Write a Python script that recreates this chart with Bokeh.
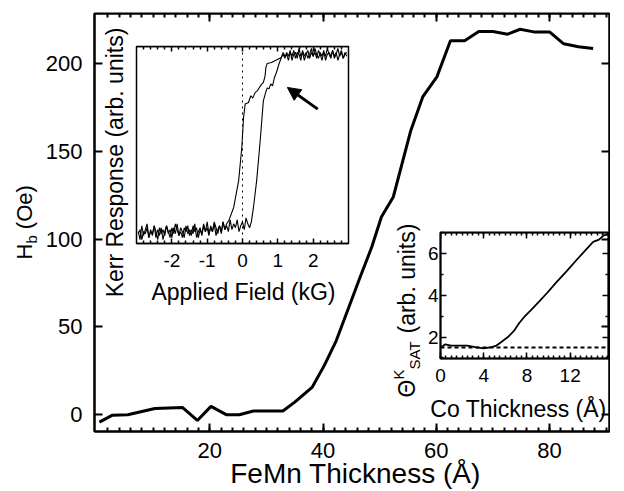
from math import pi
from bokeh.plotting import figure
from bokeh.models import (FixedTicker, LinearAxis, Range1d, Label, Span, Arrow, NormalHead,
                          GridBox, Column)
from bokeh.embed import file_html
from bokeh.resources import INLINE

FONT = "Liberation Sans"

# ---------------- main data: exchange bias vs FeMn thickness ----------------
femn_thickness = [0.5, 2.8, 5.5, 10.3, 15.2, 17.8, 20.2, 22.9, 25.2, 27.7, 32.9, 35.0, 38.1,
                  40.2, 42.3, 44.4, 46.5, 48.6, 50.3, 52.4, 55.5, 57.6, 60.1, 62.5, 65.0,
                  67.5, 70.0, 72.6, 74.8, 77.2, 80.0, 82.5, 85.1, 87.7]
hb_oe = [-4.2, -0.2, 0.0, 3.6, 4.1, -3.2, 4.8, 0.1, 0.0, 2.2, 2.2, 7.2, 15.8,
         28.0, 42.0, 60.0, 78.0, 95.5, 112.6, 124.0, 161.9, 181.0, 192.4, 213.0, 213.0,
         218.2, 218.2, 216.7, 219.5, 218.0, 218.0, 211.2, 209.5, 208.5]
main_x_ticks = [20, 40, 60, 80]
main_y_ticks = [0, 50, 100, 150, 200]

# ---------------- inset 1: Kerr hysteresis loop ----------------
field_up = [-2.95, -2.90, -2.85, -2.80, -2.75, -2.70, -2.65, -2.60, -2.55, -2.50,
            -2.45, -2.40, -2.35, -2.30, -2.25, -2.20, -2.15, -2.10, -2.05, -2.00,
            -1.95, -1.90, -1.85, -1.80, -1.75, -1.70, -1.65, -1.60, -1.55, -1.50,
            -1.45, -1.40, -1.35, -1.30, -1.25, -1.20, -1.15, -1.10, -1.05, -1.00,
            -0.95, -0.90, -0.85, -0.80, -0.75, -0.70, -0.65, -0.60, -0.55, -0.50,
            -0.45, -0.40, -0.35, -0.30, -0.25, -0.20, -0.15, -0.10, -0.05, 0.00,
            0.05, 0.10, 0.15, 0.20, 0.25,
            0.31, 0.40, 0.50, 0.59, 0.66, 0.70, 0.75, 0.80, 0.85, 0.90, 0.96, 1.03, 1.10,
            1.15, 1.20, 1.25, 1.30, 1.35, 1.40, 1.45, 1.50, 1.55, 1.60,
            1.65, 1.70, 1.75, 1.80, 1.85, 1.90, 1.95, 2.00, 2.05, 2.10,
            2.15, 2.20, 2.25, 2.30, 2.35, 2.40, 2.45, 2.50, 2.55, 2.60,
            2.65, 2.70, 2.75, 2.80, 2.85, 2.90, 2.95]
kerr_up = [0.06, 0.02, 0.09, 0.04, 0.07, 0.10, 0.03, 0.06, 0.05, 0.09,
           0.03, 0.07, 0.04, 0.08, 0.02, 0.06, 0.09, 0.05, 0.07, 0.03,
           0.08, 0.05, 0.10, 0.04, 0.06, 0.03, 0.08, 0.06, 0.09, 0.04,
           0.07, 0.05, 0.10, 0.03, 0.06, 0.08, 0.04, 0.09, 0.06, 0.11,
           0.05, 0.08, 0.06, 0.10, 0.04, 0.07, 0.09, 0.05, 0.11, 0.07,
           0.09, 0.06, 0.12, 0.07, 0.10, 0.08, 0.12, 0.06, 0.09, 0.11,
           0.07, 0.13, 0.10, 0.08, 0.11,
           0.183, 0.318, 0.52, 0.724, 0.77, 0.79, 0.785, 0.81, 0.80, 0.84, 0.868, 0.91, 0.944,
           0.96, 0.94, 0.97, 0.95, 0.98, 0.93, 0.96, 0.97, 0.94, 0.99,
           0.95, 0.97, 0.93, 0.96, 0.98, 0.94, 0.97, 0.95, 0.99, 0.96,
           0.94, 0.97, 0.95, 0.98, 0.93, 0.96, 0.97, 0.95, 0.98, 0.94,
           0.96, 0.99, 0.95, 0.97, 0.94, 0.96, 0.97]
field_down = [2.95, 2.90, 2.85, 2.80, 2.75, 2.70, 2.65, 2.60, 2.55, 2.50,
              2.45, 2.40, 2.35, 2.30, 2.25, 2.20, 2.15, 2.10, 2.05, 2.00,
              1.95, 1.90, 1.85, 1.80, 1.75, 1.70, 1.65, 1.60, 1.55, 1.50,
              1.45, 1.40, 1.35, 1.30, 1.25, 1.20, 1.15,
              1.10, 0.96, 0.82, 0.70, 0.66, 0.64, 0.59, 0.54, 0.48, 0.42, 0.36, 0.29, 0.235,
              0.17, 0.076, 0.03, -0.02, -0.11, -0.25, -0.39,
              -0.45, -0.50, -0.55, -0.60, -0.65, -0.70, -0.75, -0.80, -0.85, -0.90,
              -0.95, -1.00, -1.05, -1.10, -1.15, -1.20, -1.25, -1.30, -1.35, -1.40,
              -1.45, -1.50, -1.55, -1.60, -1.65, -1.70, -1.75, -1.80, -1.85, -1.90,
              -1.95, -2.00, -2.05, -2.10, -2.15, -2.20, -2.25, -2.30, -2.35, -2.40,
              -2.45, -2.50, -2.55, -2.60, -2.65, -2.70, -2.75, -2.80, -2.85, -2.90,
              -2.95]
kerr_down = [0.95, 0.97, 0.94, 0.98, 0.96, 0.93, 0.97, 0.95, 0.98, 0.94,
             0.96, 0.99, 0.95, 0.97, 0.93, 0.96, 0.98, 0.94, 0.97, 0.95,
             0.99, 0.96, 0.94, 0.97, 0.95, 0.98, 0.93, 0.96, 0.97, 0.94,
             0.98, 0.95, 0.97, 0.93, 0.96, 0.95, 0.97,
             0.944, 0.931, 0.919, 0.914, 0.893, 0.851, 0.817, 0.809, 0.792, 0.775, 0.767, 0.738, 0.75,
             0.716, 0.708, 0.64, 0.487, 0.318, 0.183, 0.115,
             0.10, 0.07, 0.11, 0.06, 0.09, 0.05, 0.08, 0.11, 0.06, 0.09,
             0.04, 0.08, 0.06, 0.10, 0.05, 0.07, 0.03, 0.08, 0.06, 0.09,
             0.04, 0.07, 0.05, 0.09, 0.03, 0.06, 0.08, 0.04, 0.07, 0.10,
             0.05, 0.08, 0.03, 0.06, 0.09, 0.04, 0.07, 0.05, 0.08, 0.02,
             0.06, 0.09, 0.04, 0.07, 0.03, 0.08, 0.05, 0.06, 0.02, 0.07,
             0.05]
inset1_x_ticks = [-2, -1, 0, 1, 2]
arrow_tail = [2.13, 0.682]
arrow_tip = [1.27, 0.792]

# ---------------- inset 2: saturation Kerr signal vs Co thickness ----------------
co_thickness = [0.09, 0.45, 0.96, 1.71, 2.47, 3.22, 3.98, 4.73, 5.18, 5.63, 6.24, 6.84, 7.29,
                7.75, 8.35, 9.10, 9.86, 10.76, 11.66, 12.57, 13.47, 14.13, 14.67, 15.12, 15.42]
theta_k_sat = [1.52, 1.65, 1.59, 1.59, 1.59, 1.52, 1.46, 1.52, 1.59, 1.76, 2.00, 2.32, 2.67,
               2.96, 3.28, 3.68, 4.11, 4.64, 5.15, 5.68, 6.19, 6.56, 6.67, 6.88, 6.90]
theta_reference_level = 1.5
inset2_x_ticks = [0, 4, 8, 12]
inset2_y_ticks = [2, 4, 6]

TOTAL_W, TOTAL_H = 610, 489


def style_axis(ax, ticks, minor, major_len, minor_len, width, label_size=None, standoff=0,
               fixed=None):
    ax.ticker = FixedTicker(ticks=ticks, minor_ticks=minor)
    ax.axis_line_color = "black"
    ax.axis_line_width = width
    ax.major_tick_in = major_len
    ax.major_tick_out = 0
    ax.minor_tick_in = minor_len
    ax.minor_tick_out = 0
    ax.major_tick_line_width = width
    ax.minor_tick_line_width = width
    ax.major_tick_line_color = "black"
    ax.minor_tick_line_color = "black"
    if label_size:
        ax.major_label_text_font = FONT
        ax.major_label_text_font_size = label_size
        ax.major_label_text_color = "black"
        ax.major_label_standoff = standoff
        ax.major_label_overrides = {t: str(t) for t in ticks}
    else:
        ax.major_label_overrides = {t: "" for t in ticks}
        ax.major_label_text_font_size = "1px"
        ax.major_label_standoff = 0
    if fixed is not None:
        ax.fixed_location = fixed


def new_fig(w, h, xr, yr, bl, br, bt, bb, x_axis=True, y_axis=True):
    f = figure(width=w, height=h, x_range=Range1d(*xr), y_range=Range1d(*yr),
               output_backend="svg", toolbar_location=None,
               min_border_left=bl, min_border_right=br, min_border_top=bt, min_border_bottom=bb,
               x_axis_location="below" if x_axis else None,
               y_axis_location="left" if y_axis else None)
    f.grid.visible = False
    f.background_fill_alpha = 0
    f.border_fill_alpha = 0
    f.outline_line_color = "black"
    return f


# ================= main figure (page coordinates) =================
MX = (-0.37, 90.59)
MY = (-9.5, 228.47)
p = new_fig(TOTAL_W, TOTAL_H, MX, MY, 94, 1, 13, TOTAL_H - 431)
p.background_fill_color = "white"
p.background_fill_alpha = 1
p.border_fill_color = "white"
p.border_fill_alpha = 1
p.outline_line_width = 2
p.line(femn_thickness, hb_oe, line_width=3, line_color="black")

main_minor_x = list(range(2, 91, 2))
style_axis(p.below[0], main_x_ticks, main_minor_x, 8, 4, 2, "22px", 11)
style_axis(p.left[0], main_y_ticks, [], 8, 0, 2, "22px", 12)
top_ax = LinearAxis()
p.add_layout(top_ax, "above")
style_axis(top_ax, main_x_ticks, main_minor_x, 8, 4, 2, fixed=MY[1])
right_ax = LinearAxis()
p.add_layout(right_ax, "right")
style_axis(right_ax, main_y_ticks, [], 8, 0, 2, fixed=MX[1])

# ================= inset 1 =================
i1 = new_fig(254, 286, (-3, 3), (0, 1), 36, 6, 26, 63, y_axis=False)
i1.outline_line_width = 1.5
i1.line(field_up, kerr_up, line_width=1.1, line_color="black")
i1.line(field_down, kerr_down, line_width=1.1, line_color="black")
i1.add_layout(Span(location=0, dimension="height", line_color="black", line_width=1,
                   line_dash="dotted"))
i1.add_layout(Arrow(x_start=arrow_tail[0], y_start=arrow_tail[1], x_end=arrow_tip[0],
                    y_end=arrow_tip[1], line_width=3, line_color="black",
                    end=NormalHead(size=13, fill_color="black", line_color="black")))
i1_minor = [-2.8, -2.6, -2.4, -2.2, -1.8, -1.6, -1.4, -1.2, -0.8, -0.6, -0.4, -0.2,
            0.2, 0.4, 0.6, 0.8, 1.2, 1.4, 1.6, 1.8, 2.2, 2.4, 2.6, 2.8]
style_axis(i1.below[0], inset1_x_ticks, i1_minor, 5, 3, 1.5, "19px", 10)
i1_top = LinearAxis()
i1.add_layout(i1_top, "above")
style_axis(i1_top, inset1_x_ticks, i1_minor, 5, 3, 1.5, fixed=1)

# ================= inset 2 =================
I2X = (0, 15.55)
I2Y = (0.97, 7.01)
i2 = new_fig(231, 204, I2X, I2Y, 62, 1, 8, 70)
i2.outline_line_width = 2
i2.line(co_thickness, theta_k_sat, line_width=1.8, line_color="black")
i2.add_layout(Span(location=theta_reference_level, dimension="width", line_color="black",
                   line_width=2, line_dash="4 3"))
i2_minor_x = [v / 2 for v in range(0, 32)]
style_axis(i2.below[0], inset2_x_ticks, i2_minor_x, 6, 3, 1.5, "19px", 10)
style_axis(i2.left[0], inset2_y_ticks, [1, 3, 5, 7], 6, 3, 1.5, "19px", 2)
i2_top = LinearAxis()
i2.add_layout(i2_top, "above")
style_axis(i2_top, inset2_x_ticks, i2_minor_x, 6, 3, 1.5, fixed=I2Y[1])
i2_right = LinearAxis()
i2.add_layout(i2_right, "right")
style_axis(i2_right, inset2_y_ticks, [1, 3, 5, 7], 6, 3, 1.5, fixed=I2X[1])

# ================= text layer: titles in page pixel coordinates =================
t = new_fig(TOTAL_W, TOTAL_H, (0, TOTAL_W), (TOTAL_H, 0), 0, 0, 0, 0, x_axis=False, y_axis=False)
t.outline_line_color = None
BASE_SHIFT = 0.3  # em; Bokeh's alphabetic anchor sits this far above the glyph baseline


def add_text(px, py, text, size, angle=0.0, align="left"):
    shift = BASE_SHIFT * size
    if angle:
        px -= shift
    else:
        py -= shift
    t.add_layout(Label(x=px, y=py, text=text, angle=angle, angle_units="rad",
                       text_font=FONT, text_font_size=f"{size}px", text_align=align,
                       text_baseline="alphabetic", text_color="black"))


add_text(355, 481, "FeMn Thickness (Å)", 28, align="center")
add_text(30.5, 259, "H", 22, angle=pi / 2)
add_text(35.5, 243.1, "b", 15, angle=pi / 2)
add_text(30.5, 228.7, "(Oe)", 22, angle=pi / 2)
add_text(243, 298, "Applied Field (kG)", 23, align="center")
add_text(121, 162, "Kerr Response (arb. units)", 23, angle=pi / 2, align="center")
add_text(518, 415, "Co Thickness (Å)", 23, align="center")
add_text(413, 397, "Θ", 23, angle=pi / 2)
add_text(402, 379, "K", 15, angle=pi / 2)
add_text(418, 369, "SAT", 15, angle=pi / 2)
add_text(413, 333, "(arb. units)", 23, angle=pi / 2)

layout = GridBox(children=[(p, 0, 0, 5, 5),
                           (Column(children=[i1], spacing=0), 1, 1, 2, 1),
                           (Column(children=[i2], spacing=0), 2, 3, 2, 1),
                           (Column(children=[t], spacing=0), 0, 0, 5, 5)],
                 rows=["20px", "204px", "82px", "122px", f"{TOTAL_H - 428}px"],
                 cols=["100px", "254px", "24px", "231px", "1px"], spacing=0,
                 styles={"vertical-align": "top"})

open("out.html", "w").write(file_html(layout, INLINE))
